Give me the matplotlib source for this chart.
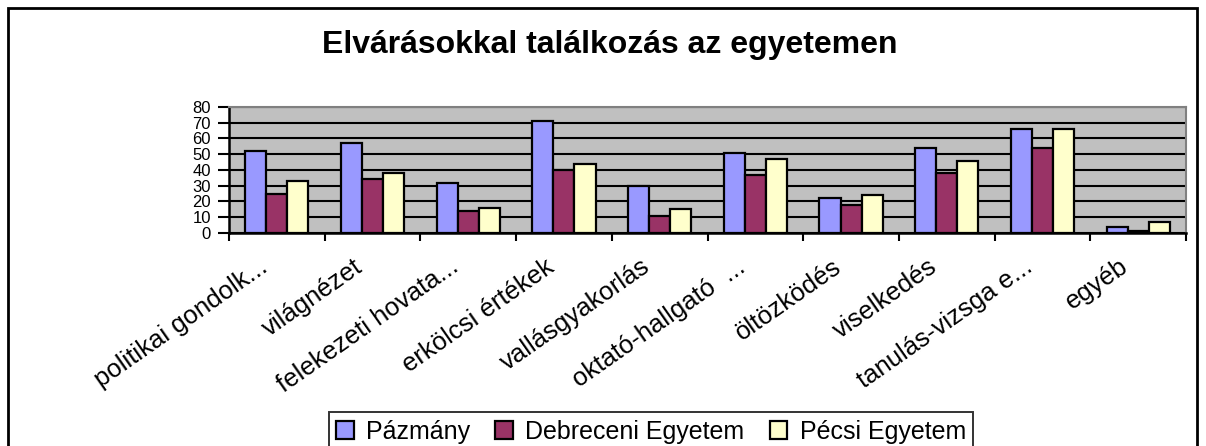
import matplotlib
matplotlib.use('Agg')
import matplotlib.pyplot as plt
import numpy as np
from matplotlib.patches import Rectangle

# Data
categories = ["politikai gondolk...", "világnézet", "felekezeti hovata...",
              "erkölcsi értékek", "vallásgyakorlás", "oktató-hallgató  ...",
              "öltözködés", "viselkedés", "tanulás-vizsga e...", "egyéb"]
pazmany = [52, 57, 32, 71, 30, 51, 22, 54, 66, 4]
debreceni = [25, 34, 14, 40, 11, 37, 18, 38, 54, 1]
pecsi = [33, 38, 16, 44, 15, 47, 24, 46, 66, 7]
series_names = ["Pázmány", "Debreceni Egyetem", "Pécsi Egyetem"]
colors = ["#9999FF", "#993366", "#FFFFCC"]

plt.rcParams['font.family'] = ['Liberation Sans', 'DejaVu Sans']

W, H = 1206, 446
fig = plt.figure(figsize=(W / 100, H / 100), dpi=100)

# outer chart border
fig.patches.append(Rectangle((8 / W, -0.01), 1189 / W, 1 - 8 / H + 0.01,
                             transform=fig.transFigure, fill=False,
                             edgecolor='black', linewidth=2))

fig.text(610 / W, 1 - 45 / H, "Elvárásokkal találkozás az egyetemen",
         ha='center', va='center', fontsize=23, fontweight='bold')

ax = fig.add_axes([229 / W, 1 - 233 / H, 957 / W, 126 / H])
ax.set_facecolor('#C0C0C0')

x = np.arange(len(categories))
w = 0.22
for i, (vals, name, c) in enumerate(zip([pazmany, debreceni, pecsi], series_names, colors)):
    ax.bar(x + (i - 1) * w, vals, w, color=c, edgecolor='black', linewidth=1.6,
           label=name, zorder=3)

ax.set_xlim(-0.5, len(categories) - 0.5)
ax.set_ylim(0, 80)
ax.set_yticks(range(0, 81, 10))
ax.tick_params(axis='y', labelsize=12, length=8, width=1.5, pad=5)
ax.yaxis.grid(True, color='black', linewidth=1.5, zorder=1)
ax.set_axisbelow(True)

# x ticks at category boundaries, labels drawn separately
ax.set_xticks(np.arange(-0.5, len(categories), 1.0))
ax.set_xticklabels([])
ax.tick_params(axis='x', length=6, width=1.5)
for i, lab in enumerate(categories):
    ax.text(i - 0.2, -0.17, lab, rotation=35, rotation_mode='anchor',
            transform=ax.get_xaxis_transform(),
            ha='right', va='top', fontsize=18.5)

for s in ['top', 'right']:
    ax.spines[s].set_color('#808080')
    ax.spines[s].set_linewidth(1.5)
for s in ['left', 'bottom']:
    ax.spines[s].set_color('black')
    ax.spines[s].set_linewidth(1.8)

leg = fig.legend(loc='upper center', bbox_to_anchor=(651 / W, 1 - 412 / H), ncol=3,
                 fontsize=18, frameon=True, fancybox=False, edgecolor='black',
                 handlelength=0.7, handleheight=0.7, handletextpad=0.5,
                 columnspacing=1.0, borderpad=0.3, borderaxespad=0)
leg.get_frame().set_linewidth(1.4)

fig.savefig("out.png", dpi=100)
